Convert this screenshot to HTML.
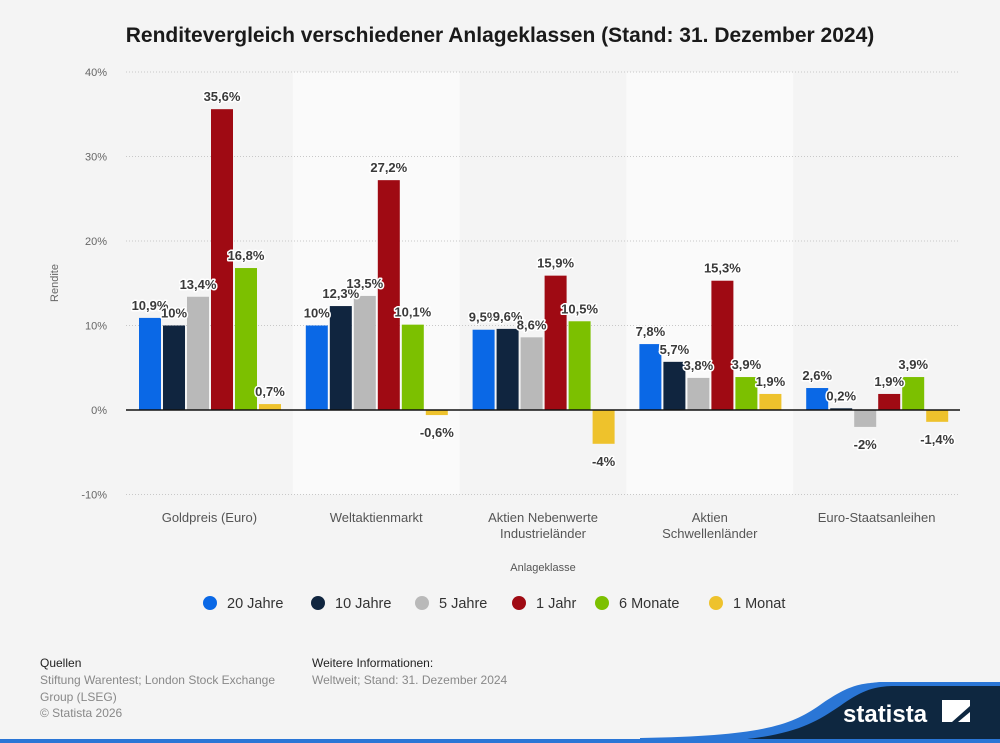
<!DOCTYPE html>
<html><head><meta charset="utf-8"><style>
body{margin:0;background:#f4f4f4;font-family:"Liberation Sans",sans-serif;}
#wrap{position:relative;width:1000px;height:743px;overflow:hidden;background:#f4f4f4}
</style></head><body>
<div id="wrap">
<svg id="chart" width="1000" height="743" style="position:absolute;left:0;top:0"></svg>
</div>
<script>
const categories=[["Goldpreis (Euro)"],["Weltaktienmarkt"],["Aktien Nebenwerte","Industrieländer"],["Aktien","Schwellenländer"],["Euro-Staatsanleihen"]];
const seriesNames=["20 Jahre","10 Jahre","5 Jahre","1 Jahr","6 Monate","1 Monat"];
const seriesColors=["#0a68e6","#10253f","#b9b9b9","#9f0a13","#7cc000","#eec22c"];
const s20=[10.9,10,9.5,7.8,2.6];
const s10=[10,12.3,9.6,5.7,0.2];
const s5=[13.4,13.5,8.6,3.8,-2];
const s1y=[35.6,27.2,15.9,15.3,1.9];
const s6m=[16.8,10.1,10.5,3.9,3.9];
const s1m=[0.7,-0.6,-4,1.9,-1.4];
const series=[s20,s10,s5,s1y,s6m,s1m];
const yTicks=[-10,0,10,20,30,40];
const yLabels=["-10%","0%","10%","20%","30%","40%"];

const NS="http://www.w3.org/2000/svg";
const svg=document.getElementById('chart');
function el(t,a,p){const e=document.createElementNS(NS,t);for(const k in a)e.setAttribute(k,a[k]);(p||svg).appendChild(e);return e;}
const X0=126,X1=960,Y40=72,Y0=410;
const y=v=>Y0-(v/40)*(Y0-Y40);
const bandW=(X1-X0)/categories.length;
const fmt=v=>String(v).replace('.',',')+'%';

let t=el('text',{x:500,y:42,'text-anchor':'middle','font-size':21,'font-weight':'bold',fill:'#1a1a1a'});
t.textContent="Renditevergleich verschiedener Anlageklassen (Stand: 31. Dezember 2024)";



categories.forEach((c,i)=>{
  if(i%2===1){
    const r=el('rect',{x:X0+i*bandW,y:y(40),width:bandW,height:y(-10)-y(40),fill:'#fafafa'});
    
    
  }
});
yTicks.forEach((v,i)=>{
  if(v!==0){const g=el('line',{x1:X0,x2:X1,y1:y(v),y2:y(v),stroke:'#c8c8c8','stroke-dasharray':'1,2'});
  
  }
  const l=el('text',{x:107,y:y(v)+4,'text-anchor':'end','font-size':11,fill:'#666'});
  l.textContent=yLabels[i];
  
  
});
let yt=el('text',{x:58,y:283,'text-anchor':'middle','font-size':11,fill:'#666',transform:'rotate(-90 58 283)'});
yt.textContent="Rendite";



const barStep=24,barW=22;
const labels=[];
categories.forEach((c,i)=>{
  const gx=X0+i*bandW+13;
  series.forEach((s,j)=>{
    const v=s[i];
    const bx=gx+j*barStep;
    const h=Math.max(Math.abs(y(v)-y(0)),0.8);
    const r=el('rect',{x:bx,y:v>=0?y(0)-h:y(0),width:barW,height:h,fill:seriesColors[j]});
    
    
    labels.push({x:bx+barW/2,y:v>=0?y(v)-8:y(v)+22,txt:fmt(v)});
  });
  c.forEach((line,k)=>{
    const ct=el('text',{x:X0+i*bandW+bandW/2,y:522+k*16,'text-anchor':'middle','font-size':13,fill:'#555'});
    ct.textContent=line;
    
    
  });
});
const ax=el('line',{x1:X0,x2:X1,y1:Y0,y2:Y0,stroke:'#111','stroke-width':1.5});


labels.forEach(L=>{
  const tx=el('text',{x:L.x,y:L.y,'text-anchor':'middle','font-size':13,'font-weight':'bold',fill:'#3a3a3a',stroke:'#fff','stroke-width':3,'paint-order':'stroke','stroke-linejoin':'round'});
  tx.textContent=L.txt;
  
  
});
let xt=el('text',{x:543,y:571,'text-anchor':'middle','font-size':11,fill:'#555'});
xt.textContent="Anlageklasse";



const legX=[210,318,422,519,602,716];
seriesNames.forEach((n,j)=>{
  const g=el('g',{});
  
  
  el('circle',{cx:legX[j],cy:603,r:7,fill:seriesColors[j]},g);
  const lt=el('text',{x:legX[j]+17,y:608,'font-size':14.5,fill:'#333'},g);
  lt.textContent=n;
});

const ft=[[40,667,"Quellen","#222"],[40,684,"Stiftung Warentest; London Stock Exchange","#888"],[40,701,"Group (LSEG)","#888"],[40,717,"© Statista 2026","#888"],[312,667,"Weitere Informationen:","#222"],[312,684,"Weltweit; Stand: 31. Dezember 2024","#888"]];
ft.forEach(f=>{const e=el('text',{x:f[0],y:f[1],'font-size':12,fill:f[3]});e.textContent=f[2];

});
const logo=el('path',{d:'M640 743 L640 738 C760 736 790 726 820 705 C850 684 860 684 880 682 L1000 682 L1000 743 Z',fill:'#2a76d6'});


const logo2=el('path',{d:'M700 743 C790 738 810 726 840 706 C862 690 875 686 895 686 L1000 686 L1000 743 Z',fill:'#0e2740'});


el('rect',{x:0,y:739,width:1000,height:4,fill:'#2a76d6'});
const lt=el('text',{x:843,y:722,'font-size':24,'font-weight':'bold',fill:'#fff'});
lt.textContent="statista";


const ic=el('path',{d:'M942 700 L970 700 L970 706 L952 722 L942 722 Z M958 722 L970 712 L970 722 Z',fill:'#fff'});


</script>
</body></html>
